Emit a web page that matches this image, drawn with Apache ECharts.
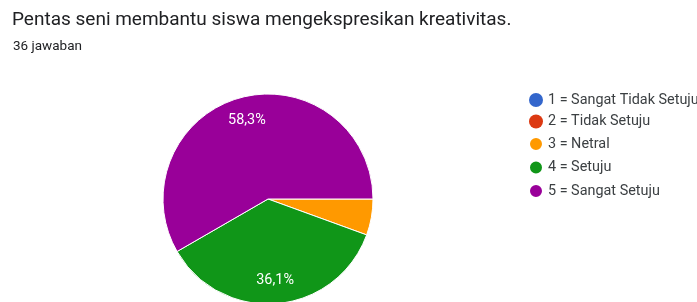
<!DOCTYPE html>
<html><head><meta charset="utf-8">
<script src="https://cdn.jsdelivr.net/npm/echarts@6/dist/echarts.min.js"></script>
<style>html,body{margin:0;padding:0;background:#fff}#c{width:697px;height:302px}</style>
</head><body><div id="c"></div>
<script>
const categories = ['1 = Sangat Tidak Setuju','2 = Tidak Setuju','3 = Netral','4 = Setuju','5 = Sangat Setuju'];
const counts = [0, 0, 2, 13, 21];
const colors = ['#3366cc','#dc3912','#ff9900','#109618','#990099'];
const title = 'Pentas seni membantu siswa mengekspresikan kreativitas.';
const subtitle = '36 jawaban';

const total = counts.reduce((a,b)=>a+b,0);
const data = categories.map((n,i)=>({name:n,value:counts[i],itemStyle:{color:colors[i],borderWidth:counts[i]>0?1:0}}));
const chart = echarts.init(document.getElementById('c'));
chart.setOption({
  backgroundColor:'#fff',
  animation:false,
  title:[
    {text:title,left:12,top:11,padding:0,textStyle:{fontFamily:'Roboto',fontSize:19,fontWeight:'normal',color:'#202124'}},
    {text:subtitle,left:13,top:40,padding:0,textStyle:{fontFamily:'Roboto',fontSize:13.5,fontWeight:'normal',color:'#202124'}}
  ],
  legend:{
    orient:'vertical',left:528,top:93,padding:0,icon:'circle',itemWidth:14,itemHeight:14,itemGap:7.5,
    textStyle:{fontFamily:'Roboto',fontSize:14.4,lineHeight:14,color:'#3c4043'},
    data:categories
  },
  series:[
    {type:'pie',center:[268,199],radius:[0,105],startAngle:0,clockwise:true,
     itemStyle:{borderColor:'#fff',borderWidth:1},label:{show:false},labelLine:{show:false},
     emphasis:{disabled:true},data:data},
    {type:'pie',center:[268,199],radius:[52,105],startAngle:0,clockwise:true,silent:true,
     itemStyle:{color:'rgba(0,0,0,0)',borderWidth:0},labelLine:{show:false},emphasis:{disabled:true},
     label:{show:true,position:'inside',fontFamily:'Roboto',fontSize:14.4,color:'#fff',
       formatter:p=>p.value/total>=0.1?(p.value/total*100).toFixed(1).replace('.',',')+'%':''},
     data:categories.map((n,i)=>({name:n+' ',value:counts[i]})),
     legendHoverLink:false}
  ]
});
</script></body></html>
